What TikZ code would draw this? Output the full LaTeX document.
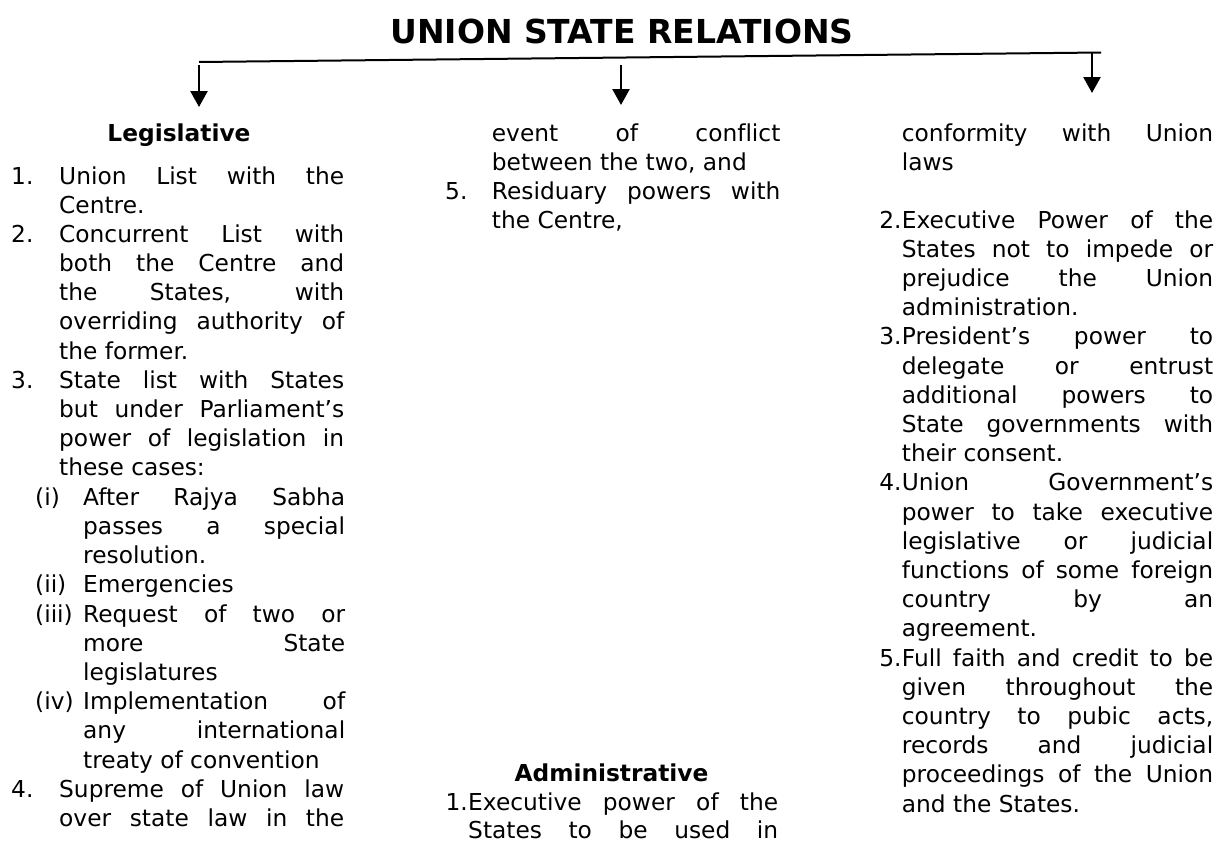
\documentclass[tikz,border=0pt]{standalone}
\usepackage{fontspec}
\setmainfont[Ligatures=NoCommon]{DejaVu Sans}
\usetikzlibrary{arrows.meta}
% a justified line of a given width
\newcommand\jl[2]{\makebox[#1][s]{#2}}
\def\wA{285pt}   % legislative items
\def\wB{262pt}   % legislative sub-items
\def\wC{288.5pt} % middle column
\def\wD{310pt}   % administrative items
\def\wE{311.3pt} % right column

\begin{document}
\begin{tikzpicture}[x=1pt,y=-1pt,
  txt/.style={anchor=base west, inner sep=0pt, font=\fontsize{23.3}{29.2}\selectfont},
  numr/.style={txt, anchor=base east},
  head/.style={anchor=base, inner sep=0pt, font=\fontsize{23.3}{29.2}\selectfont\bfseries},
  maintitle/.style={anchor=base, inner sep=0pt, font=\fontsize{33}{39}\selectfont\bfseries},
  bar/.style={line width=2pt},
  down/.style={line width=2.5pt, -{Triangle[length=16pt,width=17pt]}},
]
\fill[white] (0,0) rectangle (1225,843);
\useasboundingbox (0,0) rectangle (1225,843);

% title and branching bar
\node[maintitle] (title) at (622,44) {UNION STATE RELATIONS};
\coordinate (barL) at (199,62);
\coordinate (barR) at (1101,52.5);
\draw[bar] (barL) -- (barR);
\coordinate (aL) at (199,65);
\coordinate (aM) at (621,65);
\coordinate (aR) at (1092,52.5);
\coordinate (tL) at (199,107);
\coordinate (tM) at (621,105);
\coordinate (tR) at (1092,93);
\draw[down] (aL) -- (tL);
\draw[down] (aM) -- (tM);
\draw[down] (aR) -- (tR);

% ---------------- Legislative ----------------
\node[head] (leg) at (179,141) {Legislative};
\node[txt] (n1) at (11,184) {1.};
\node[txt] (l1) at (59,184) {\jl{\wA}{Union List with the}};
\node[txt] (l2) at (59,213) {Centre.};
\node[txt] (n2) at (11,242) {2.};
\node[txt] (l3) at (59,242) {\jl{\wA}{Concurrent List with}};
\node[txt] (l4) at (59,271) {\jl{\wA}{both the Centre and}};
\node[txt] (l5) at (59,300) {\jl{\wA}{the States, with}};
\node[txt] (l6) at (59,329) {\jl{\wA}{overriding authority of}};
\node[txt] (l7) at (59,359) {the former.};
\node[txt] (n3) at (11,388) {3.};
\node[txt] (l8) at (59,388) {\jl{\wA}{State list with States}};
\node[txt] (l9) at (59,417) {\jl{\wA}{but under Parliament’s}};
\node[txt] (l10) at (59,446) {\jl{\wA}{power of legislation in}};
\node[txt] (l11) at (59,475) {these cases:};
\node[txt] (s1) at (35,505) {(i)};
\node[txt] (l12) at (83,505) {\jl{\wB}{After Rajya Sabha}};
\node[txt] (l13) at (83,534) {\jl{\wB}{passes a special}};
\node[txt] (l14) at (83,563) {resolution.};
\node[txt] (s2) at (35,592) {(ii)};
\node[txt] (l15) at (83,592) {Emergencies};
\node[txt] (s3) at (35,622) {(iii)};
\node[txt] (l16) at (83,622) {\jl{\wB}{Request of two or}};
\node[txt] (l17) at (83,651) {\jl{\wB}{more State}};
\node[txt] (l18) at (83,680) {legislatures};
\node[txt] (s4) at (35,709) {(iv)};
\node[txt] (l19) at (83,709) {\jl{\wB}{Implementation of}};
\node[txt] (l20) at (83,738) {\jl{\wB}{any international}};
\node[txt] (l21) at (83,768) {treaty of convention};
\node[txt] (n4) at (11,797) {4.};
\node[txt] (l22) at (59,797) {\jl{\wA}{Supreme of Union law}};
\node[txt] (l23) at (59,826) {\jl{\wA}{over state law in the}};

% ---------------- middle column ----------------
\node[txt] (m1) at (491.7,141) {\jl{\wC}{event of conflict}};
\node[txt] (m2) at (491.7,170) {between the two, and};
\node[txt] (n5) at (445,199) {5.};
\node[txt] (m3) at (491.7,199) {\jl{\wC}{Residuary powers with}};
\node[txt] (m4) at (491.7,228) {the Centre,};

\node[head] (adm) at (611.5,781) {Administrative};
\node[numr] (k1) at (468,810) {1.};
\node[txt] (m5) at (468,810) {\jl{\wD}{Executive power of the}};
\node[txt] (m6) at (468,838) {\jl{\wD}{States to be used in}};

% ---------------- right column ----------------
\node[txt] (r1) at (901.7,141.7) {\jl{\wE}{conformity with Union}};
\node[txt] (r2) at (901.7,170) {laws};
\node[numr] (k2) at (901.7,228) {2.};
\node[txt] (r3) at (901.7,228) {\jl{\wE}{Executive Power of the}};
\node[txt] (r4) at (901.7,257) {\jl{\wE}{States not to impede or}};
\node[txt] (r5) at (901.7,286) {\jl{\wE}{prejudice the Union}};
\node[txt] (r6) at (901.7,315) {administration.};
\node[numr] (k3) at (901.7,344) {3.};
\node[txt] (r7) at (901.7,344) {\jl{\wE}{President’s power to}};
\node[txt] (r8) at (901.7,374) {\jl{\wE}{delegate or entrust}};
\node[txt] (r9) at (901.7,403) {\jl{\wE}{additional powers to}};
\node[txt] (r10) at (901.7,432) {\jl{\wE}{State governments with}};
\node[txt] (r11) at (901.7,461) {their consent.};
\node[numr] (k4) at (901.7,490) {4.};
\node[txt] (r12) at (901.7,490) {\jl{\wE}{Union Government’s}};
\node[txt] (r13) at (901.7,520) {\jl{\wE}{power to take executive}};
\node[txt] (r14) at (901.7,549) {\jl{\wE}{legislative or judicial}};
\node[txt] (r15) at (901.7,578) {\jl{\wE}{functions of some foreign}};
\node[txt] (r16) at (901.7,607) {\jl{\wE}{country by an}};
\node[txt] (r17) at (901.7,636) {agreement.};
\node[numr] (k5) at (901.7,666) {5.};
\node[txt] (r18) at (901.7,666) {\jl{\wE}{Full faith and credit to be}};
\node[txt] (r19) at (901.7,695) {\jl{\wE}{given throughout the}};
\node[txt] (r20) at (901.7,724) {\jl{\wE}{country to pubic acts,}};
\node[txt] (r21) at (901.7,753) {\jl{\wE}{records and judicial}};
\node[txt] (r22) at (901.7,782) {\jl{\wE}{proceedings of the Union}};
\node[txt] (r23) at (901.7,812) {and the States.};
\end{tikzpicture}
\end{document}
